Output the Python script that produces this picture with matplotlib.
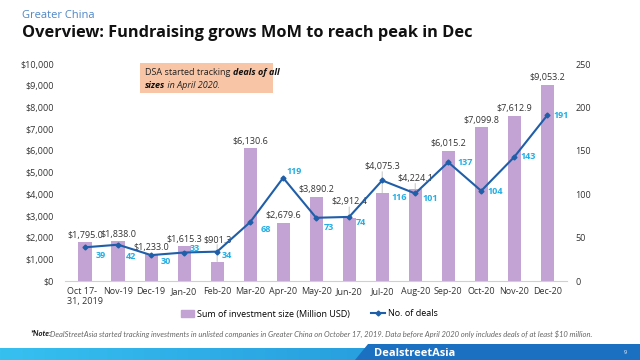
import numpy as np
import matplotlib.pyplot as plt
from matplotlib.patches import Polygon, Rectangle
from matplotlib.lines import Line2D
from matplotlib.colors import LinearSegmentedColormap
from matplotlib.ticker import FuncFormatter

plt.rcParams['font.family'] = ['Open Sans', 'DejaVu Sans']

months = ['Oct 17-\n31, 2019', 'Nov-19', 'Dec-19', 'Jan-20', 'Feb-20', 'Mar-20', 'Apr-20',
          'May-20', 'Jun-20', 'Jul-20', 'Aug-20', 'Sep-20', 'Oct-20', 'Nov-20', 'Dec-20']
invest = [1795.0, 1838.0, 1233.0, 1615.3, 901.3, 6130.6, 2679.6, 3890.2, 2912.4,
          4075.3, 4224.1, 6015.2, 7099.8, 7612.9, 9053.2]
deals = [39, 42, 30, 33, 34, 68, 119, 73, 74, 116, 101, 137, 104, 143, 191]

# label nudges in pixels (bar labels lifted above the line, deal labels beside the markers)
bar_lift = [7, 7, 7, 7, 22, 7, 7, 7, 16, 26, 11, 7, 7, 7, 7]
deal_dx = [11, 8, 10, 6, 5, 10, 3, 8, 7, 9, 7, 9, 6, 6, 6]
deal_dy = [-8, -12, -6, 4, -4, -7, 6, -10, -6, -17, -5, 0, -1, 0, 0]

bar_col = '#c2a3d3'
line_col = '#1f5ea8'
lab_col = '#22aee6'
px = 0.72  # points per pixel at dpi 100

fig = plt.figure(figsize=(6.4, 3.6), dpi=100)
ax = fig.add_axes([0.102, 0.219, 0.784, 0.603])
x = np.arange(len(months))
ax.bar(x, invest, width=0.4, color=bar_col, zorder=2)
ax.set_xlim(-0.6, len(months) - 0.4)
ax.set_ylim(0, 10000)
ax.set_yticks(np.arange(0, 10001, 1000))
ax.yaxis.set_major_formatter(FuncFormatter(lambda v, p: '${:,.0f}'.format(v)))
ax.set_xticks(x)
ax.set_xticklabels(months, fontsize=6.5, color='#333333')
ax.get_xticklabels()[0].set_multialignment('left')
ax.tick_params(axis='y', labelsize=6.5, colors='#333333', length=0, pad=8)
ax.tick_params(axis='x', length=0, pad=4)
for s in ['top', 'right', 'left']:
    ax.spines[s].set_visible(False)
ax.spines['bottom'].set_color('#d0d0d0')

for xi, v, lift in zip(x, invest, bar_lift):
    ax.annotate('${:,.1f}'.format(v), (xi, v), xytext=(0, lift * px), textcoords='offset points',
                ha='center', va='center', fontsize=6.5, color='#333333', zorder=4)
    if lift > 10:
        ax.annotate('', (xi, v), xytext=(0, (lift - 5) * px), textcoords='offset points',
                    arrowprops=dict(arrowstyle='-', color='#bbbbbb', lw=0.6, shrinkA=0, shrinkB=0))

ax2 = ax.twinx()
ax2.set_ylim(0, 250)
ax2.set_yticks(np.arange(0, 251, 50))
ax2.tick_params(axis='y', labelsize=6.5, colors='#333333', length=0, pad=6)
for s in ['top', 'right', 'left', 'bottom']:
    ax2.spines[s].set_visible(False)
ax2.plot(x, deals, color=line_col, lw=1.5, marker='D', markersize=2.5, zorder=3)
for xi, d, dx, dy in zip(x, deals, deal_dx, deal_dy):
    ax2.annotate(str(d), (xi, d), xytext=(dx * px, dy * px), textcoords='offset points',
                 ha='left', va='center', fontsize=6.5, fontweight='bold', color=lab_col)

# note box, mixed styles placed one after another
fig.patches.append(Rectangle((140 / 640, 1 - 93 / 360), 133 / 640, 30 / 360,
                             transform=fig.transFigure, facecolor='#f8c6a6', edgecolor='none'))
t1 = fig.text(145 / 640, 1 - 75 / 360, 'DSA started tracking ', fontsize=6.5, color='#222222',
              va='baseline')
t3 = fig.text(145 / 640, 1 - 88 / 360, 'sizes', fontsize=6.5, color='#111111', va='baseline',
              fontweight='bold', style='italic')
fig.canvas.draw()
r = fig.canvas.get_renderer()
x1 = fig.transFigure.inverted().transform(t1.get_window_extent(r))[1][0]
x3 = fig.transFigure.inverted().transform(t3.get_window_extent(r))[1][0]
fig.text(x1, 1 - 75 / 360, 'deals of all', fontsize=6.5, color='#111111', va='baseline',
         fontweight='bold', style='italic')
fig.text(x3, 1 - 88 / 360, ' in April 2020.', fontsize=6.5, color='#222222', va='baseline',
         style='italic')

fig.text(22 / 640, 1 - 15 / 360, 'Greater China', fontsize=8, color='#4f86c6', va='center')
fig.text(22 / 640, 1 - 33 / 360, 'Overview: Fundraising grows MoM to reach peak in Dec',
         fontsize=11.8, fontweight='bold', color='#111111', va='center')

handles = [Rectangle((0, 0), 1, 1, color=bar_col),
           Line2D([], [], color=line_col, lw=1.5, marker='D', markersize=2.5)]
fig.legend(handles, ['Sum of investment size (Million USD)', 'No. of deals'],
           loc='center', bbox_to_anchor=(0.483, 1 - 314 / 360), ncol=2, frameon=False,
           fontsize=6.5, handlelength=1.5, handletextpad=0.3, columnspacing=2.4)

fig.text(30 / 640, 1 - 334 / 360, '*Note:', fontsize=5.5, fontweight='bold', style='italic',
         color='#111111', va='center', family=['Lato', 'DejaVu Sans'])
fig.text(50 / 640, 1 - 334 / 360,
         'DealStreetAsia started tracking investments in unlisted companies in Greater China on '
         'October 17, 2019. Data before April 2020 only includes deals of at least $10 million.',
         fontsize=5.5, style='italic', color='#666666', va='center', family=['Lato', 'DejaVu Sans'])

# footer band
fax = fig.add_axes([0, 0, 1, 16 / 360])
fax.set_xlim(0, 1)
fax.set_ylim(0, 1)
grad = np.linspace(0, 1, 256).reshape(1, -1)
fax.imshow(grad, aspect='auto', cmap=LinearSegmentedColormap.from_list('g', ['#36c0f0', '#1e86d2']),
           extent=[0, 1, 0, 12 / 16])
fax.add_patch(Polygon([[368 / 640, 1], [1, 1], [1, 0], [355 / 640, 0]], closed=True,
                      facecolor='#1c70c2', edgecolor='none'))
fax.axis('off')
fig.text(415 / 640, 7 / 360, 'DealstreetAsia', fontsize=8, fontweight='bold', color='white',
         ha='center', va='center')
fig.text(625 / 640, 7 / 360, '9', fontsize=4, color='white', ha='center', va='center')

fig.savefig('out.png', dpi=100)
